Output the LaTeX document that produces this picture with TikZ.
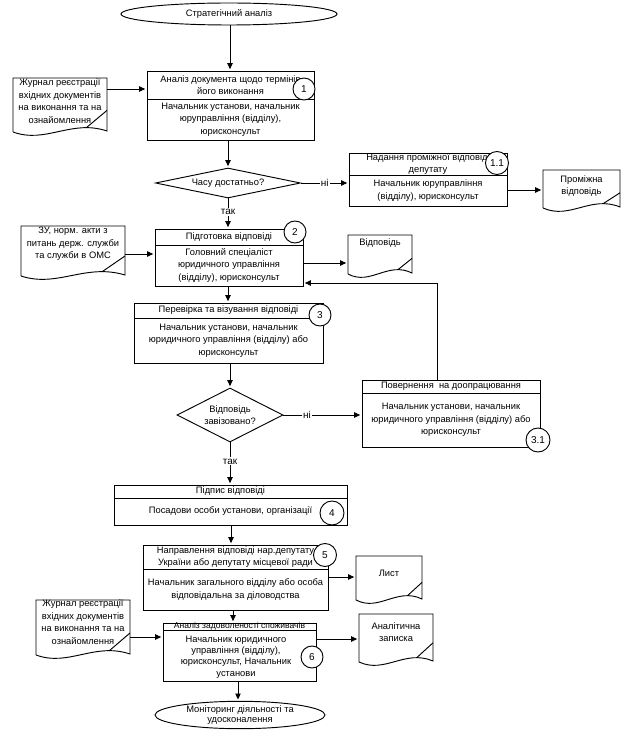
\documentclass[tikz,border=0pt]{standalone}
\usepackage{fontspec}
\setmainfont{Liberation Sans}
\usetikzlibrary{shapes.geometric,arrows.meta,calc}
\tikzset{
  txt/.style={align=center, inner sep=0pt, font=\fontsize{7}{9.4}\selectfont},
  smalltxt/.style={align=center, inner sep=0pt, font=\fontsize{6.4}{7.5}\selectfont},
  boxst/.style={draw, rectangle, inner sep=0pt},
  arr/.style={-{Triangle[length=4.5pt,width=4pt]}, shorten >=1pt},
  num/.style={draw, circle, fill=white, inner sep=0pt, font=\fontsize{7.5}{9}\selectfont},
  term/.style={draw, ellipse, inner sep=0pt, align=center, font=\fontsize{7}{8}\selectfont},
  dec/.style={draw, diamond, inner sep=0pt, align=center, font=\fontsize{7}{9.4}\selectfont},
  lbl/.style={inner sep=1pt, fill=white, font=\fontsize{7.5}{9}\selectfont}
}
\newcommand\docnode[7]{%
  \node[inner sep=0pt, minimum width={(#4-#2)*0.75pt}, minimum height={(#5-#3)*0.75pt}] (#1) at ({(#2+#4)/2},{(#3+#5)/2}) {};
  \draw ({#2},{#5}) -- ({#2},{#3}) -- ({#4},{#3}) -- ({#4},{#5-1}) .. controls ({#2+0.62*(#4-#2)},{#5-13}) and ({#2+0.35*(#4-#2)},{#5+12}) .. ({#2},{#5});
  \draw ({#4},{#5-0.4*(#5-#3)}) -- ({#2+0.78*(#4-#2)},{#5-4.3});
  \node[txt] (#1x) at ({(#2+#4)/2},{#6}) {#7};
}
\newcommand\procbox[8]{%
  \node[boxst, minimum width={(#4-#2)*0.75pt}, minimum height={(#5-#3)*0.75pt}] (#1) at ({(#2+#4)/2},{(#3+#5)/2}) {};
  \draw ({#2},{#6}) -- ({#4},{#6});
  \node[txt] (#1t) at ({(#2+#4)/2},{(#3+#6)/2}) {#7};
  \node[txt] (#1b) at ({(#2+#4)/2},{(#6+#5)/2}) {#8};
}
\begin{document}
\begin{tikzpicture}[x=0.75pt,y=-0.75pt,line width=0.7pt]
\useasboundingbox (0,0) rectangle (624,745);

% terminators
\node[term, minimum width={216*0.75pt}, minimum height={22*0.75pt}] (e1) at (229,14) {Стратегічний аналіз};
\node[term, minimum width={170*0.75pt}, minimum height={23*0.75pt}] (e2) at (240,715) {Моніторинг діяльності та\\удосконалення};

% process boxes
\procbox{b1}{147}{71}{314}{140}{99}{Аналіз документа щодо термінів\\його виконання}{Начальник установи, начальник\\юруправління (відділу),\\юрисконсульт}
\procbox{b11}{349}{153}{507}{206}{175}{Надання проміжної відповіді\\депутату}{Начальник юруправління\\(відділу), юрисконсульт}
\procbox{b2}{155}{229}{303}{286}{245}{Підготовка відповіді}{Головний спеціаліст\\юридичного управління\\(відділу), юрисконсульт}
\procbox{b3}{134}{303}{323}{363}{318}{Перевірка та візування відповіді}{Начальник установи, начальник\\юридичного управління (відділу) або\\юрисконсульт}
\procbox{b31}{362}{380}{540}{447}{393}{Повернення \ на доопрацювання}{Начальник установи, начальник\\юридичного управління (відділу) або\\юрисконсульт}
\procbox{b4}{114}{485}{347}{525}{498}{Підпис відповіді}{Посадови особи установи, організації}
\procbox{b5}{143}{545}{328}{610}{569}{Направлення відповіді нар.депутату\\України або депутату місцевої ради}{Начальник загального відділу або особа\\відповідальна за діловодства}
\node[boxst, minimum width={153*0.75pt}, minimum height={58*0.75pt}] (b6) at (239.5,652) {};
\draw (163,630.5) -- (316,630.5);
\node[smalltxt] (b6t) at (239.5,626.5) {Аналіз задоволеності споживачів};
\node[txt, font=\fontsize{7}{8.6}\selectfont] (b6b) at (236,657) {Начальник юридичного\\управління (відділу),\\юрисконсульт, Начальник\\установи};

% decisions
\node[dec, minimum width={145*0.75pt}, minimum height={30*0.75pt}, aspect=4.8] (d1) at (228,183) {Часу достатньо?};
\node[dec, minimum width={106*0.75pt}, minimum height={54*0.75pt}, aspect=2] (d2) at (230,415) {Відповідь\\завізовано?};

% documents
\docnode{j1}{13}{78}{107}{132}{101}{Журнал реєстрації\\вхідних документів\\на виконання та на\\ознайомлення}
\docnode{p1}{543}{170}{620}{208}{186}{Проміжна\\відповідь}
\docnode{z1}{21}{226}{125}{276}{244}{ЗУ, норм. акти з\\питань держ. служби\\та служби в ОМС}
\docnode{v1}{348}{235}{412}{274}{243}{Відповідь}
\docnode{l1}{356}{556}{422}{600}{573}{Лист}
\docnode{j2}{36}{600}{130}{655}{622}{Журнал реєстрації\\вхідних документів\\на виконання та на\\ознайомлення}
\docnode{a1}{359}{614}{433}{662}{632}{Аналітична\\записка}

% number circles
\node[num, minimum size={22*0.75pt}] (n1) at (304,89) {1};
\node[num, minimum size={23*0.75pt}] (n11) at (497,163) {1.1};
\node[num, minimum size={22*0.75pt}] (n2) at (295,232) {2};
\node[num, minimum size={22*0.75pt}] (n3) at (320,315) {3};
\node[num, minimum size={24*0.75pt}] (n31) at (538,440) {3.1};
\node[num, minimum size={24*0.75pt}] (n4) at (332,513) {4};
\node[num, minimum size={23*0.75pt}] (n5) at (325,555) {5};
\node[num, minimum size={22*0.75pt}] (n6) at (312,657) {6};

% connectors
\draw[arr] (e1.south -| 230,0) -- (b1.north -| 230,0);
\draw[arr] (j1.east |- 0,89) -- (b1.west |- 0,89);
\draw[arr] (b1.south -| d1.north) -- (d1.north);
\draw[arr] (d1.east) -- node[lbl, pos=0.5] {ні} (b11.west |- d1.east);
\draw[arr] (b11.east |- 0,190) -- (p1.west |- 0,190);
\draw[arr] (d1.south) -- node[lbl, pos=0.45] {так} (b2.north -| d1.south);
\draw[arr] (z1.east |- 0,254) -- (b2.west |- 0,254);
\draw[arr] (b2.east |- 0,263) -- (v1.west |- 0,263);
\draw[arr] (b2.south -| 228,0) -- (b3.north -| 228,0);
\draw[arr] (b3.south -| d2.north) -- (d2.north);
\draw[arr] (d2.east) -- node[lbl, pos=0.3] {ні} (b31.west |- d2.east);
\draw[arr] (b31.north -| 437,0) -- (437,283) -- (b2.east |- 0,283);
\draw[arr] (d2.south) -- node[lbl, pos=0.45] {так} (b4.north -| d2.south);
\draw[arr] (b4.south -| 231,0) -- (b5.north -| 231,0);
\draw[arr] (b5.east |- 0,577) -- (l1.west |- 0,577);
\draw[arr] (b5.south -| 233,0) -- (b6.north -| 233,0);
\draw[arr] (j2.east |- 0,637) -- (b6.west |- 0,637);
\draw[arr] (b6.east |- 0,639) -- (a1.west |- 0,639);
\draw[arr] (b6.south -| 238,0) -- (e2.north -| 238,0);
\end{tikzpicture}
\end{document}
